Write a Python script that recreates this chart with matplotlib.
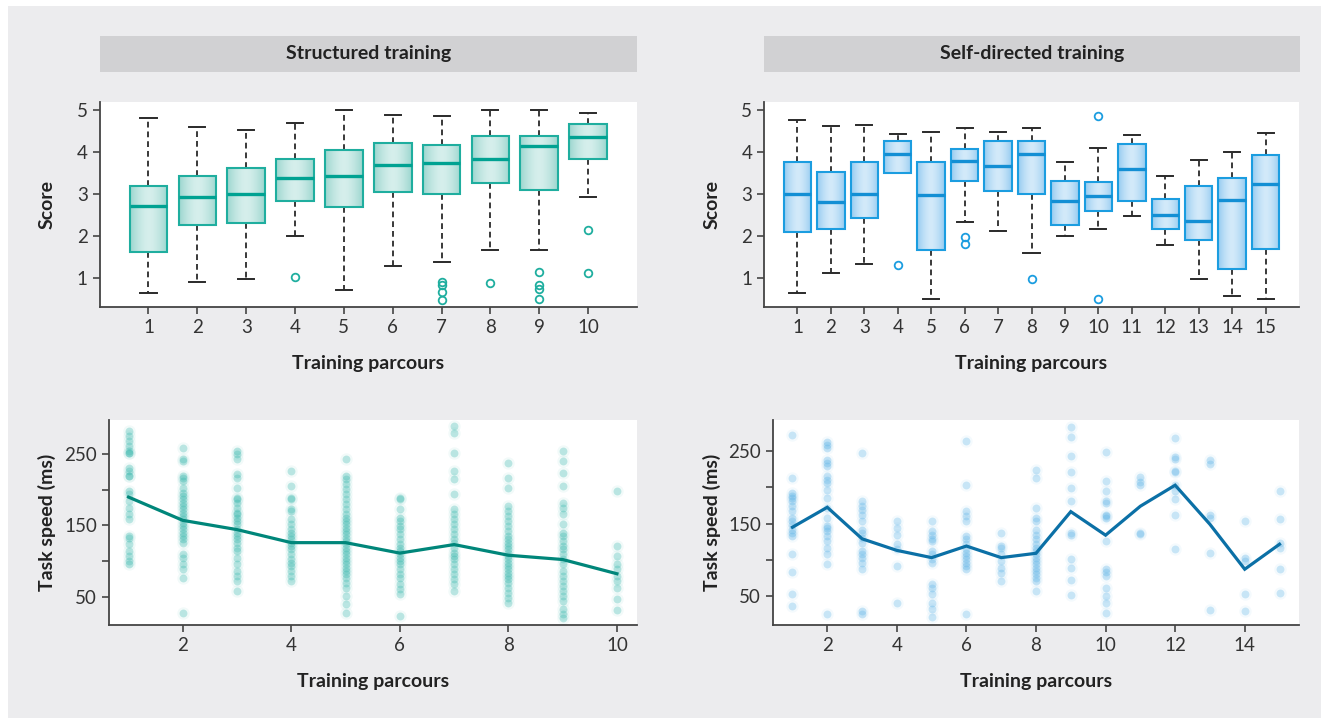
import numpy as np
import matplotlib
matplotlib.use("Agg")
import matplotlib.pyplot as plt
from matplotlib.patches import Rectangle
from matplotlib.ticker import MultipleLocator

plt.rcParams['font.family'] = ['Lato', 'DejaVu Sans']

# ---------------- data ----------------
struct_parcours = [1, 2, 3, 4, 5, 6, 7, 8, 9, 10]
struct_whislo = [0.65, 0.90, 0.99, 2.00, 0.72, 1.29, 1.39, 1.67, 1.67, 2.94]
struct_q1 = [1.63, 2.27, 2.31, 2.84, 2.70, 3.05, 3.00, 3.26, 3.10, 3.83]
struct_med = [2.72, 2.94, 2.99, 3.38, 3.43, 3.70, 3.73, 3.84, 4.13, 4.36]
struct_q3 = [3.18, 3.44, 3.62, 3.84, 4.05, 4.22, 4.16, 4.38, 4.38, 4.67]
struct_whishi = [4.80, 4.60, 4.53, 4.68, 5.00, 4.87, 4.85, 5.00, 5.00, 4.92]
struct_fliers = [[], [], [], [1.02], [], [], [0.90, 0.84, 0.68, 0.49], [0.88],
                 [1.16, 0.84, 0.75, 0.50], [2.14, 1.12]]

self_parcours = list(range(1, 16))
self_whislo = [0.65, 1.13, 1.35, 3.50, 0.51, 2.34, 2.12, 1.59, 2.01, 2.16, 2.47, 1.78, 0.99, 0.57, 0.51]
self_q1 = [2.09, 2.16, 2.43, 3.50, 1.66, 3.31, 3.07, 3.01, 2.26, 2.59, 2.83, 2.16, 1.90, 1.21, 1.70]
self_med = [3.00, 2.81, 3.00, 3.96, 2.97, 3.78, 3.67, 3.95, 2.84, 2.96, 3.59, 2.51, 2.35, 2.86, 3.23]
self_q3 = [3.76, 3.53, 3.76, 4.25, 3.76, 4.06, 4.25, 4.25, 3.32, 3.28, 4.19, 2.88, 3.18, 3.39, 3.93]
self_whishi = [4.77, 4.62, 4.64, 4.42, 4.48, 4.56, 4.48, 4.56, 3.76, 4.10, 4.40, 3.43, 3.82, 4.01, 4.44]
self_fliers = [[], [], [], [1.32], [], [1.98, 1.82], [], [0.98], [], [4.86, 0.51],
               [], [], [], [], []]

speed_struct = [
    [282.6, 275.5, 268.5, 261.5, 254.5, 252.1, 252.1, 231, 226.4, 219.4, 219.4, 198.3, 193.6,
     184.3, 174.9, 165.5, 158.5, 135.1, 132.7, 123.4, 114, 107, 100, 95.3],
    [259.2, 242.8, 240.4, 219.4, 217, 212.3, 203, 196, 191.3, 186.6, 181.9, 177.2, 172.5,
     167.9, 163.2, 158.5, 153.8, 149.1, 144.5, 139.8, 135.1, 130.4, 125.7, 109.3, 104.7,
     95.3, 88.3, 76.6, 27.4],
    [254.5, 249.8, 242.8, 221.7, 217, 203, 189, 186.6, 181.9, 174.9, 167.9, 165.5, 160.8,
     156.2, 151.5, 144.5, 139.8, 135.1, 130.4, 125.7, 118.7, 114, 104.7, 95.3, 85.9, 78.9,
     71.9, 57.8],
    [226.4, 205.3, 189, 186.6, 172.5, 170.2, 158.5, 151.5, 144.5, 139.8, 135.1, 130.4,
     125.7, 121.1, 116.4, 109.3, 102.3, 97.6, 93, 85.9, 78.9, 71.9],
    [242.8, 219.4, 214.7, 207.7, 200.6, 193.6, 186.6, 179.6, 172.5, 165.5, 160.8, 156.2,
     151.5, 146.8, 142.1, 137.4, 132.7, 128.1, 123.4, 118.7, 114, 109.3, 104.7, 100, 95.3,
     90.6, 85.9, 81.2, 76.6, 69.5, 62.5, 50.8, 39.1, 27.4],
    [189, 186.6, 172.5, 160.8, 156.2, 149.1, 144.5, 137.4, 130.4, 123.4, 118.7, 114,
     109.3, 104.7, 100, 95.3, 88.3, 81.2, 76.6, 67.2, 60.2, 53.2, 22.7],
    [289.6, 280.2, 252.1, 226.4, 214.7, 193.6, 172.5, 165.5, 158.5, 151.5, 144.5, 137.4,
     130.4, 125.7, 118.7, 111.7, 107, 102.3, 95.3, 88.3, 81.2, 74.2, 67.2, 57.8],
    [238.1, 217, 203, 177.2, 170.2, 163.2, 156.2, 149.1, 142.1, 135.1, 130.4, 125.7,
     121.1, 116.4, 111.7, 107, 102.3, 97.6, 93, 88.3, 83.6, 78.9, 74.2, 69.5, 62.5, 55.5,
     48.5, 41.5],
    [254.5, 240.4, 224.1, 205.3, 181.9, 174.9, 165.5, 151.5, 139.8, 135.1, 128.1, 121.1,
     116.4, 109.3, 102.3, 95.3, 85.9, 78.9, 71.9, 64.9, 57.8, 50.8, 43.8, 32.1, 25.1, 20.4],
    [198.3, 121.1, 107, 95.3, 88.3, 78.9, 71.9, 62.5, 46.1, 30.7],
]
speed_struct_mean = [189.7, 157, 144, 125.7, 125.7, 111, 123, 108, 102, 82]

speed_self = [
    [272.5, 212.9, 192.2, 187.6, 185.4, 180.8, 173.9, 167, 157.9, 153.3, 148.7, 141.8,
     137.2, 132.6, 107.4, 83.6, 52.4, 36.4],
    [263.3, 258.7, 254.1, 238.1, 233.5, 228.9, 215.2, 210.6, 206, 196.8, 185.4, 171.6,
     157.9, 146.4, 144.1, 139.5, 132.6, 125.8, 116.6, 107.4, 93.7, 24.9],
    [247.3, 180.8, 173.9, 169.3, 162.4, 153.3, 141.8, 137.2, 130.3, 123.5, 112, 107.4,
     102.8, 96, 86.8, 29.5, 24.9],
    [153.3, 144.1, 134.9, 121.2, 114.3, 91.4, 40.9],
    [153.3, 139.5, 134.9, 128.1, 125.8, 112, 107.4, 100.5, 96, 66.2, 61.6, 52.4, 40.9,
     31.8, 21.2],
    [264.2, 203.7, 167, 160.1, 153.3, 132.6, 128.1, 121.2, 114.3, 109.7, 105.1, 100.5,
     96, 91.4, 86.8, 25.8],
    [137.2, 118.9, 116.6, 107.4, 98.2, 89.1, 82.2, 70.7],
    [224.3, 212.9, 171.6, 157.9, 153.3, 141.8, 134.9, 128.1, 121.2, 116.6, 112, 107.4,
     102.8, 98.2, 93.7, 89.1, 84.5, 79.9, 75.3, 70.7, 57.0],
    [284, 269.3, 242.7, 221.1, 199.1, 181.7, 137.2, 134, 100.5, 89.1, 72.1, 51.0],
    [249.5, 208.3, 194.5, 180.8, 178.5, 162.4, 160.1, 157.9, 125.8, 86.8, 83.6, 77.6,
     60.7, 50.1, 40.9, 27.2],
    [213.8, 208.0, 203.7, 137.2, 135.8],
    [267.9, 241.3, 239.5, 223, 221.1, 203.7, 194.5, 184.4, 162.4, 114.3],
    [238.1, 232.1, 162.4, 157.9, 109.7, 30.4],
    [153.3, 102.8, 98.2, 52.4, 29.5],
    [194.5, 157, 123.5, 116.6, 86.8, 54.7],
]
speed_self_mean = [145, 172.5, 129, 113, 103, 119, 103, 109, 166.5, 134, 174, 203, 149, 87, 121.5]

titles = ["Structured training", "Self-directed training"]
xlabel = "Training parcours"
ylabel_top = "Score"
ylabel_bottom = "Task speed (ms)"

# ---------------- style ----------------
TEAL_EDGE = "#1fae9f"
TEAL_MED = "#00a292"
TEAL_FILL_EDGE = "#9cd6cf"
TEAL_FILL_CENTER = "#d6efec"
TEAL_PT = "#22b0a4"
TEAL_LINE = "#00867a"

BLUE_EDGE = "#1b9de0"
BLUE_MED = "#138fd4"
BLUE_FILL_EDGE = "#94cbf0"
BLUE_FILL_CENTER = "#d3eafa"
BLUE_PT = "#4fade5"
BLUE_LINE = "#0b70a6"

LABEL_FS = 14
TICK_FS = 13.5

W, H = 1327, 718
fig = plt.figure(figsize=(W / 100, H / 100), dpi=100)
fig.patch.set_facecolor("white")

# grey panel background
fig.patches.append(Rectangle((8 / W, 0), (1321 - 8) / W, (H - 6) / H,
                             transform=fig.transFigure, facecolor="#ececee",
                             edgecolor="none", zorder=-10))

# header bars
for (x0, x1), t in zip([(100, 637), (764, 1300)], titles):
    fig.patches.append(Rectangle((x0 / W, 1 - 72 / H), (x1 - x0) / W, 36 / H,
                                 transform=fig.transFigure, facecolor="#d1d1d3",
                                 edgecolor="none", zorder=-5))
    fig.text((x0 + x1) / 2 / W, 1 - 54 / H, t, ha="center", va="center",
             fontsize=LABEL_FS, fontweight="bold", color="#222222")


def px_axes(x0, x1, y0, y1):
    return fig.add_axes([x0 / W, 1 - y1 / H, (x1 - x0) / W, (y1 - y0) / H])


ax_tl = px_axes(99.6, 637, 102.3, 307.3)
ax_tr = px_axes(764, 1299, 102.3, 307.3)
ax_bl = px_axes(109, 637, 420, 625)
ax_br = px_axes(773, 1299, 420, 625)


def style_axes(ax):
    ax.set_facecolor("white")
    for s in ["top", "right"]:
        ax.spines[s].set_visible(False)
    for s in ["left", "bottom"]:
        ax.spines[s].set_color("#444444")
        ax.spines[s].set_linewidth(1.3)
    ax.tick_params(which="both", direction="out", length=5, width=1.2, color="#444444",
                   labelsize=TICK_FS, labelcolor="#333333", pad=3.5)


def gradient_fill(ax, patch, x0, x1, y0, y1, cedge, ccenter):
    n = 64
    t = np.linspace(-1, 1, n)
    w = 1 - np.abs(t) ** 1.6
    c0 = np.array(matplotlib.colors.to_rgb(cedge))
    c1 = np.array(matplotlib.colors.to_rgb(ccenter))
    img = c0[None, :] + (c1 - c0)[None, :] * w[:, None]
    img = img[None, :, :]
    im = ax.imshow(img, extent=(x0, x1, y0, y1), aspect="auto", origin="lower",
                   zorder=1.9, interpolation="bilinear")
    im.set_clip_path(patch)


def draw_box(ax, pos, whislo, q1, med, q3, whishi, fliers, width, capw,
             cedge, cmed, cfe, cfc):
    stats = []
    for i in range(len(pos)):
        stats.append(dict(whislo=whislo[i], q1=q1[i], med=med[i], q3=q3[i],
                          whishi=whishi[i], fliers=fliers[i]))
    bp = ax.bxp(stats, positions=pos, widths=width, patch_artist=True,
                capwidths=capw,
                boxprops=dict(facecolor="none", edgecolor=cedge, linewidth=1.5),
                medianprops=dict(color=cmed, linewidth=2.4, solid_capstyle="butt"),
                whiskerprops=dict(color="#2a2a2a", linewidth=1.3, linestyle=(0, (3.2, 2.2))),
                capprops=dict(color="#2a2a2a", linewidth=1.4),
                flierprops=dict(marker="o", markerfacecolor="none", markeredgecolor=cedge,
                                markersize=5.5, markeredgewidth=1.3))
    for i, patch in enumerate(bp["boxes"]):
        patch.set_zorder(2.2)
        gradient_fill(ax, patch, pos[i] - width / 2, pos[i] + width / 2,
                      q1[i], q3[i], cfe, cfc)
    for m in bp["medians"]:
        m.set_zorder(2.5)


# ----- top left boxplot -----
style_axes(ax_tl)
draw_box(ax_tl, struct_parcours, struct_whislo, struct_q1, struct_med, struct_q3,
         struct_whishi, struct_fliers, 0.77, 0.33,
         TEAL_EDGE, TEAL_MED, TEAL_FILL_EDGE, TEAL_FILL_CENTER)
ax_tl.set_xlim(0, 11)
ax_tl.set_ylim(0.31, 5.18)
ax_tl.set_xticks(struct_parcours)
ax_tl.set_xticklabels([str(v) for v in struct_parcours])
ax_tl.set_yticks([1, 2, 3, 4, 5])

# ----- top right boxplot -----
style_axes(ax_tr)
draw_box(ax_tr, self_parcours, self_whislo, self_q1, self_med, self_q3,
         self_whishi, self_fliers, 0.82, 0.48,
         BLUE_EDGE, BLUE_MED, BLUE_FILL_EDGE, BLUE_FILL_CENTER)
ax_tr.set_xlim(0, 16)
ax_tr.set_ylim(0.31, 5.18)
ax_tr.set_xticks(self_parcours)
ax_tr.set_xticklabels([str(v) for v in self_parcours])
ax_tr.set_yticks([1, 2, 3, 4, 5])


# ----- bottom scatter + mean line -----
def draw_speed(ax, groups, means, cpt, cline):
    xs = np.arange(1, len(groups) + 1)
    for x, g in zip(xs, groups):
        xx = np.full(len(g), x)
        ax.scatter(xx, g, s=80, color=cpt, alpha=0.06, linewidths=0, zorder=2)
        ax.scatter(xx, g, s=32, color=cpt, alpha=0.27, linewidths=0, zorder=2)
    ax.plot(xs, means, color=cline, linewidth=2.3, zorder=3, solid_joinstyle="miter")
    ax.set_yticks([50, 150, 250])
    ax.set_yticks([100, 200], minor=True)
    ax.set_xticks(np.arange(2, len(groups) + 1, 2))


style_axes(ax_bl)
draw_speed(ax_bl, speed_struct, speed_struct_mean, TEAL_PT, TEAL_LINE)
ax_bl.set_xlim(0.64, 10.37)
ax_bl.set_ylim(10, 298)

style_axes(ax_br)
draw_speed(ax_br, speed_self, speed_self_mean, BLUE_PT, BLUE_LINE)
ax_br.set_xlim(0.44, 15.56)
ax_br.set_ylim(10, 293)

# labels
lab_kw = dict(fontsize=LABEL_FS, fontweight="bold", color="#222222", ha="center", va="center")
ax_tl.text(0.5, -0.272, xlabel, transform=ax_tl.transAxes, **lab_kw)
ax_tr.text(0.5, -0.272, xlabel, transform=ax_tr.transAxes, **lab_kw)
ax_bl.text(0.5, -0.278, xlabel, transform=ax_bl.transAxes, **lab_kw)
ax_br.text(0.5, -0.278, xlabel, transform=ax_br.transAxes, **lab_kw)
ax_tl.text(-0.098, 0.5, ylabel_top, rotation=90, transform=ax_tl.transAxes, **lab_kw)
ax_tr.text(-0.097, 0.5, ylabel_top, rotation=90, transform=ax_tr.transAxes, **lab_kw)
ax_bl.text(-0.117, 0.5, ylabel_bottom, rotation=90, transform=ax_bl.transAxes, **lab_kw)
ax_br.text(-0.116, 0.5, ylabel_bottom, rotation=90, transform=ax_br.transAxes, **lab_kw)

fig.savefig("out.png", dpi=100, facecolor=fig.get_facecolor())
